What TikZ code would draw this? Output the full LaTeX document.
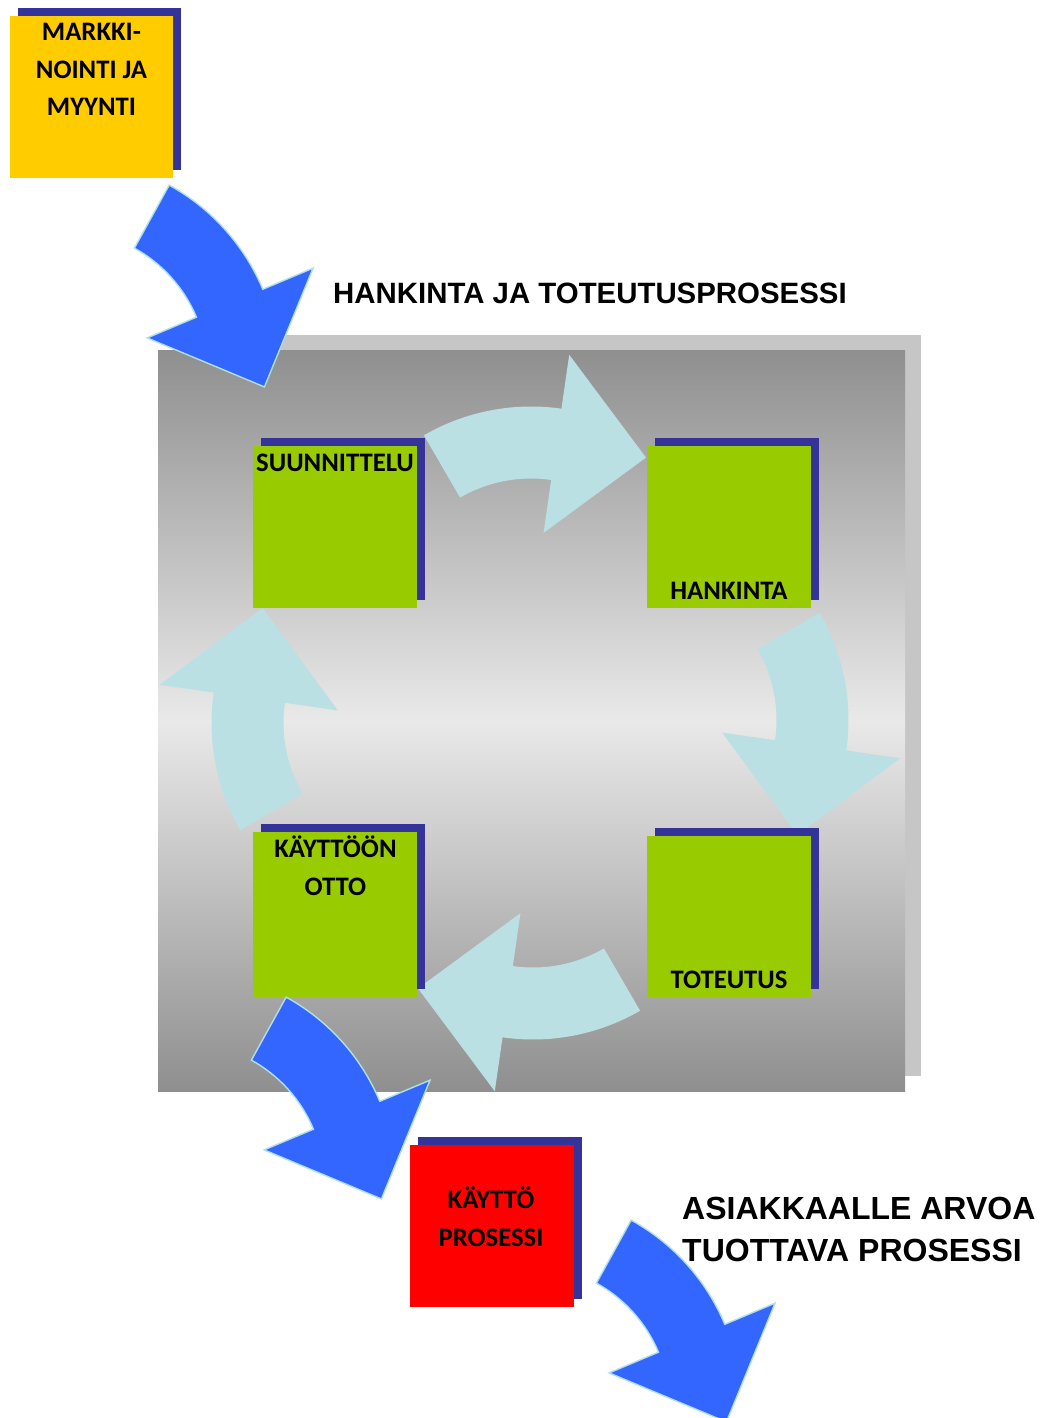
\documentclass[tikz,border=0pt]{standalone}
\usepackage{fontspec}
\setmainfont{Carlito}
\newfontfamily\headfont{Liberation Sans}
\usetikzlibrary{shadows}

\definecolor{boxshadow}{HTML}{333399}
\definecolor{boxyellow}{HTML}{FFCC00}
\definecolor{boxgreen}{HTML}{99CC00}
\definecolor{boxred}{HTML}{FF0000}
\definecolor{arrowblue}{HTML}{3366FF}
\definecolor{arrowedge}{RGB}{176,224,230}
\definecolor{cyclearrow}{RGB}{186,224,228}
\definecolor{paneldark}{RGB}{143,143,143}
\definecolor{panellight}{RGB}{233,233,233}
\definecolor{panelshadow}{RGB}{198,198,198}

\tikzset{
  % curved block arrow: shaft is a ring sector, head points along the turn
  bent arrow/.pic={
    \path[pic actions]
      (-38.3:213.5) arc[start angle=-38.3, end angle=0, radius=213.5]
      -- (0:268) -- (27.1:199) -- (0:88) -- (0:141.5)
      arc[start angle=0, end angle=-38.3, radius=141.5] -- cycle;
  },
  flowarrow/.style={fill=arrowblue, draw=arrowedge, line width=1.4pt, line join=miter},
  cyclearrowstyle/.style={fill=cyclearrow},
  box/.style={minimum width=164pt, minimum height=162pt, inner sep=0pt, outer sep=0pt,
    drop shadow={shadow xshift=8pt, shadow yshift=8pt, fill=boxshadow, opacity=1}},
  lbl/.style={font=\fontsize{26.7}{31}\selectfont\bfseries, anchor=base, inner sep=0pt},
  headline/.style={font=\headfont\fontsize{29.4}{34}\selectfont\bfseries, anchor=base west, inner sep=0pt},
  outline/.style={font=\headfont\fontsize{32}{37}\selectfont\bfseries, anchor=base west, inner sep=0pt},
}

\begin{document}
\begin{tikzpicture}[x=1pt,y=-1pt]
\useasboundingbox (0,0) rectangle (1042,1418);
\clip (0,0) rectangle (1042,1418);

% process panel with its shadow
\fill[panelshadow] (173,335) rectangle (921,1076);
\shade[top color=paneldark, bottom color=paneldark, middle color=panellight]
  (158,350) rectangle (905,1091);

% cycle arrows between the four phases
\pic[cyclearrowstyle, rotate=81.8] (cyc-top) at (531,620) {bent arrow};
\pic[cyclearrowstyle, rotate=-8.2] (cyc-right) at (635,720) {bent arrow};
\pic[cyclearrowstyle, rotate=-98.2] (cyc-bottom) at (533,826) {bent arrow};
\pic[cyclearrowstyle, rotate=-188.2] (cyc-left) at (425,723) {bent arrow};

% phase boxes
\node[box, fill=boxgreen] (suun) at (335,527) {};
\node[box, fill=boxgreen] (hank) at (729,527) {};
\node[box, fill=boxgreen, minimum height=165pt] (kayt) at (335,914.5) {};
\node[box, fill=boxgreen, minimum height=161pt] (tot) at (729,916.5) {};

% flow arrows into and out of the process
\pic[flowarrow, rotate=22.8] (flow-in) at (66,372) {bent arrow};
\pic[flowarrow, rotate=22.8] (flow-use) at (183,1184) {bent arrow};
\pic[flowarrow, rotate=22.8] (flow-out) at (528,1407) {bent arrow};

% marketing and operation boxes
\node[box, fill=boxyellow, minimum width=163pt] (mark) at (91.5,97) {};
\node[box, fill=boxred] (oper) at (492,1226) {};

% box labels
\node[lbl] (mark-l1) at (91.5,41) {MARKKI-};
\node[lbl] (mark-l2) at (91.5,78.5) {NOINTI JA};
\node[lbl] (mark-l3) at (91.5,116) {MYYNTI};
\node[lbl] (suun-l) at (335,471) {SUUNNITTELU};
\node[lbl] (hank-l) at (729,599) {HANKINTA};
\node[lbl] (tot-l) at (729,988) {TOTEUTUS};
\node[lbl] (kayt-l1) at (335.5,857) {KÄYTTÖÖN};
\node[lbl] (kayt-l2) at (335.5,895) {OTTO};
\node[lbl] (oper-l1) at (491,1208) {KÄYTTÖ};
\node[lbl] (oper-l2) at (491,1246) {PROSESSI};

% headings
\node[headline] (title) at (333,303) {HANKINTA JA TOTEUTUSPROSESSI};
\node[outline] (value-l1) at (682,1219) {ASIAKKAALLE ARVOA};
\node[outline] (value-l2) at (682,1261) {TUOTTAVA PROSESSI};
\end{tikzpicture}
\end{document}
